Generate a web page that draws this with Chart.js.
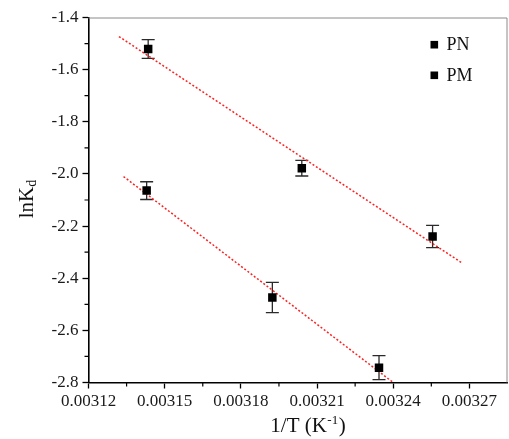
<!DOCTYPE html>
<html>
<head>
<meta charset="utf-8">
<script src="https://cdn.jsdelivr.net/npm/chart.js@4/dist/chart.umd.min.js"></script>
<style>
html,body{margin:0;padding:0;background:#fff;}
#wrap{width:509px;height:439px;position:relative;}
</style>
</head>
<body>
<div id="wrap"><canvas id="c" width="509" height="439"></canvas></div>
<script>
// ---- data ----
const seriesNames = ['PN', 'PM'];
const pnX = [0.0031435, 0.0032040, 0.0032555];
const pnY = [-1.521, -1.978, -2.240];
const pnErr = [0.036, 0.030, 0.043];
const pmX = [0.0031429, 0.0031924, 0.0032344];
const pmY = [-2.064, -2.474, -2.743];
const pmErr = [0.034, 0.058, 0.046];
// linear fit lines (end points)
const pnFitX = [0.0031320, 0.0032670];
const pnFitY = [-1.473, -2.341];
const pmFitX = [0.0031338, 0.0032400];
const pmFitY = [-2.010, -2.800];
// axes
const xMin = 0.00312, xMax = 0.003285;
const yMin = -2.8, yMax = -1.4;
const xTicks = [0.00312, 0.00315, 0.00318, 0.00321, 0.00324, 0.00327];
const xTickLabels = ['0.00312', '0.00315', '0.00318', '0.00321', '0.00324', '0.00327'];
const xMinorTicks = [0.003135, 0.003165, 0.003195, 0.003225, 0.003255];
const yTicks = [-1.4, -1.6, -1.8, -2.0, -2.2, -2.4, -2.6, -2.8];
const yTickLabels = ['-1.4', '-1.6', '-1.8', '-2.0', '-2.2', '-2.4', '-2.6', '-2.8'];
const yMinorTicks = [-1.5, -1.7, -1.9, -2.1, -2.3, -2.5, -2.7];
const xTitle = ['1/T (K', '-1', ')'];
const yTitle = ['lnK', 'd'];

const FONT = '"Liberation Serif", "Times New Roman", serif';
const errs = [pnErr, pmErr];

const pts = (xs, ys) => xs.map((x, i) => ({x: x, y: ys[i]}));

const extras = {
  id: 'extras',
  beforeDatasetsDraw(chart) {
    const ctx = chart.ctx, xs = chart.scales.x, ys = chart.scales.y;
    ctx.save();
    ctx.strokeStyle = '#2a2a2a';
    ctx.lineWidth = 1.3;
    [0, 1].forEach(di => {
      const ds = chart.data.datasets[di];
      ds.data.forEach((p, i) => {
        const px = xs.getPixelForValue(p.x);
        const t = ys.getPixelForValue(p.y + errs[di][i]);
        const b = ys.getPixelForValue(p.y - errs[di][i]);
        ctx.beginPath();
        ctx.moveTo(px, t); ctx.lineTo(px, b);
        ctx.moveTo(px - 6.5, t); ctx.lineTo(px + 6.5, t);
        ctx.moveTo(px - 6.5, b); ctx.lineTo(px + 6.5, b);
        ctx.stroke();
      });
    });
    ctx.restore();
  },
  afterDraw(chart) {
    const ctx = chart.ctx, a = chart.chartArea, xs = chart.scales.x, ys = chart.scales.y;
    ctx.save();
    // top and right frame
    ctx.strokeStyle = '#8a8a8a';
    ctx.lineWidth = 1;
    ctx.beginPath();
    ctx.moveTo(a.left, a.top + 0.5); ctx.lineTo(a.right - 0.5, a.top + 0.5); ctx.lineTo(a.right - 0.5, a.bottom);
    ctx.stroke();
    // minor ticks
    ctx.strokeStyle = '#000';
    ctx.lineWidth = 1.2;
    ctx.beginPath();
    xMinorTicks.forEach(v => {
      const px = xs.getPixelForValue(v);
      ctx.moveTo(px, a.bottom); ctx.lineTo(px, a.bottom + 4);
    });
    yMinorTicks.forEach(v => {
      const py = ys.getPixelForValue(v);
      ctx.moveTo(a.left, py); ctx.lineTo(a.left - 4, py);
    });
    ctx.stroke();
    // axis titles
    ctx.fillStyle = '#111';
    ctx.textBaseline = 'alphabetic';
    // x title
    ctx.font = '21px ' + FONT;
    const w1 = ctx.measureText(xTitle[0]).width;
    ctx.font = '13px ' + FONT;
    const w2 = ctx.measureText(xTitle[1]).width;
    ctx.font = '21px ' + FONT;
    const w3 = ctx.measureText(xTitle[2]).width;
    let sx = 308 - (w1 + w2 + 1 + w3) / 2;
    const by = 432;
    ctx.textAlign = 'left';
    ctx.fillText(xTitle[0], sx, by);
    ctx.font = '13px ' + FONT;
    ctx.fillText(xTitle[1], sx + w1 + 0.5, by - 8);
    ctx.font = '21px ' + FONT;
    ctx.fillText(xTitle[2], sx + w1 + w2 + 1, by);
    // y title
    ctx.save();
    ctx.translate(33, 199);
    ctx.rotate(-Math.PI / 2);
    ctx.font = '21px ' + FONT;
    const v1 = ctx.measureText(yTitle[0]).width;
    ctx.font = '14px ' + FONT;
    const v2 = ctx.measureText(yTitle[1]).width;
    const s = -(v1 + v2) / 2;
    ctx.font = '21px ' + FONT;
    ctx.fillText(yTitle[0], s, 0);
    ctx.font = '14px ' + FONT;
    ctx.fillText(yTitle[1], s + v1, 3);
    ctx.restore();
    // legend
    ctx.font = '18px ' + FONT;
    ctx.textBaseline = 'middle';
    [0, 1].forEach(di => {
      const ds = chart.data.datasets[di];
      const ly = 44.7 + di * 30.6;
      ctx.fillStyle = ds.backgroundColor;
      ctx.fillRect(430.5, ly - 3.8, 7.6, 7.6);
      ctx.fillStyle = '#111';
      ctx.fillText(ds.label, 446.5, ly + 1);
    });
    ctx.restore();
  }
};

new Chart(document.getElementById('c'), {
  data: {
    datasets: [
      {type: 'scatter', label: seriesNames[0], data: pts(pnX, pnY), backgroundColor: '#000', borderColor: '#000',
       pointStyle: 'rect', pointRadius: 6, borderWidth: 0, order: 0},
      {type: 'scatter', label: seriesNames[1], data: pts(pmX, pmY), backgroundColor: '#000', borderColor: '#000',
       pointStyle: 'rect', pointRadius: 6, borderWidth: 0, order: 0},
      {type: 'line', label: seriesNames[0] + ' fit', data: pts(pnFitX, pnFitY), borderColor: '#ff2020',
       borderWidth: 1.5, borderDash: [2, 2], pointRadius: 0, fill: false, order: 1},
      {type: 'line', label: seriesNames[1] + ' fit', data: pts(pmFitX, pmFitY), borderColor: '#ff2020',
       borderWidth: 1.5, borderDash: [2, 2], pointRadius: 0, fill: false, order: 1}
    ]
  },
  options: {
    responsive: false,
    animation: false,
    devicePixelRatio: 1,
    layout: {autoPadding: false, padding: {top: 17.5, right: 1.5, left: 0, bottom: 0}},
    plugins: {legend: {display: false}, tooltip: {enabled: false}},
    scales: {
      x: {
        type: 'linear', position: 'bottom', min: xMin, max: xMax,
        afterBuildTicks: sc => { sc.ticks = xTicks.map(v => ({value: v})); },
        afterFit: sc => { sc.height = 56.5; },
        ticks: {
          autoSkip: false, maxRotation: 0, minRotation: 0, padding: 3,
          color: '#1a1a1a', font: {family: FONT, size: 17},
          callback: (v, i) => xTickLabels[i]
        },
        grid: {display: true, drawOnChartArea: false, drawTicks: true, tickLength: 6, tickWidth: 1.3, tickColor: '#000'},
        border: {display: true, color: '#000', width: 1.6}
      },
      y: {
        type: 'linear', position: 'left', min: yMin, max: yMax,
        afterBuildTicks: sc => { sc.ticks = yTicks.map(v => ({value: v})); },
        afterFit: sc => { sc.width = 88.5; },
        ticks: {
          autoSkip: false, padding: 4,
          color: '#1a1a1a', font: {family: FONT, size: 17},
          callback: (v, i) => yTickLabels[i]
        },
        grid: {display: true, drawOnChartArea: false, drawTicks: true, tickLength: 6, tickWidth: 1.3, tickColor: '#000'},
        border: {display: true, color: '#000', width: 1.6}
      }
    }
  },
  plugins: [extras]
});
</script>
</body>
</html>
